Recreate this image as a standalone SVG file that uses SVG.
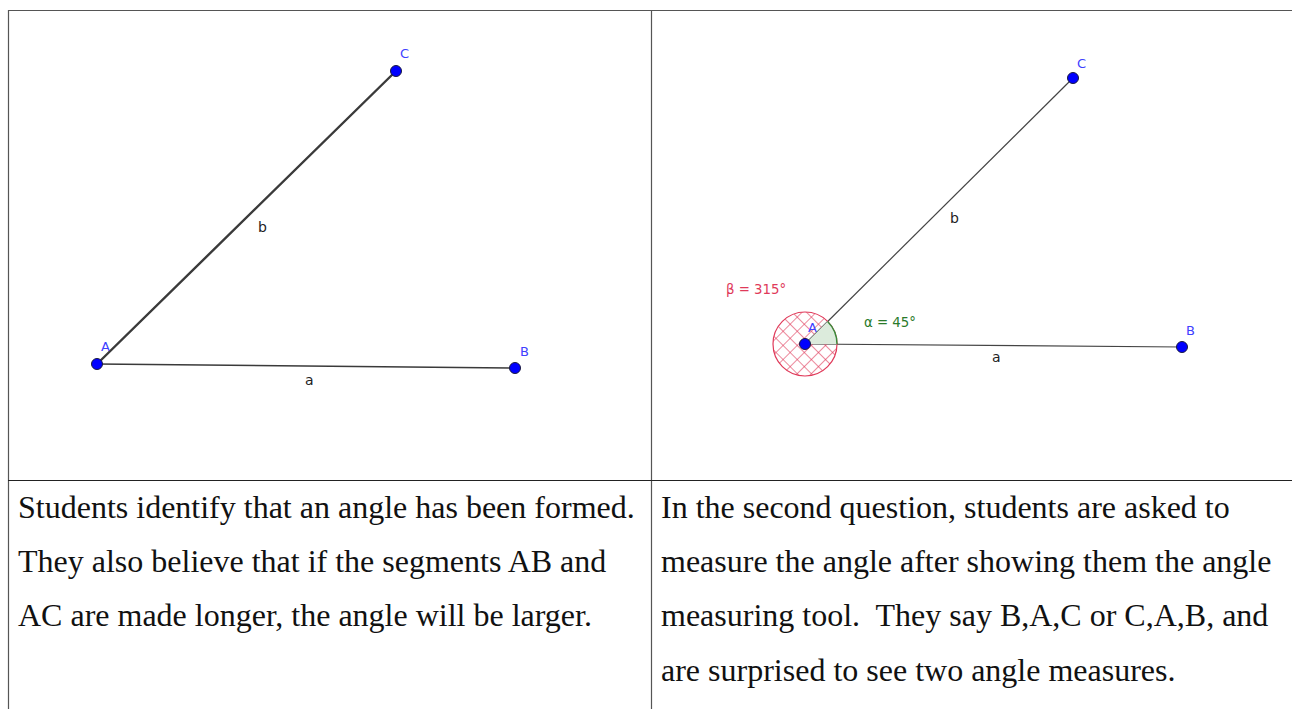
<svg xmlns="http://www.w3.org/2000/svg" width="1292" height="709" viewBox="0 0 1292 709">
<style>
.grid{stroke:#555;stroke-width:1.2;fill:none}
.body{font-family:"Liberation Serif","Times New Roman",serif;font-size:32px;fill:#111}
.pt{fill:#0000ff;stroke:#1a1a40;stroke-width:1}
.plabel{font-family:"DejaVu Sans",sans-serif;font-size:13px;fill:#4040ff}
.slabel{font-family:"DejaVu Sans",sans-serif;font-size:14px;fill:#222}
.seg1{stroke:#3a3a3a;stroke-width:2.4;stroke-linecap:round}
.seg2{stroke:#444;stroke-width:1.2}
</style>
<defs>
<pattern id="hatch" width="10" height="10" patternUnits="userSpaceOnUse" patternTransform="rotate(45 805 344)">
<line x1="0" y1="0" x2="0" y2="10" stroke="#e03a5a" stroke-width="1.2"/>
<line x1="0" y1="0" x2="10" y2="0" stroke="#e03a5a" stroke-width="1.2"/>
</pattern>
</defs>
<rect width="1292" height="709" fill="#fff"/>
<g id="table">
<line class="grid" x1="8" y1="10.5" x2="1292" y2="10.5"/>
<line class="grid" x1="8.5" y1="10" x2="8.5" y2="709"/>
<line class="grid" x1="651.5" y1="10" x2="651.5" y2="709"/>
<line x1="8" y1="480.5" x2="1292" y2="480.5" stroke="#222" stroke-width="1"/>
</g>
<g id="connectors">
<line class="seg1" x1="97" y1="364" x2="396" y2="71"/>
<line class="seg1" x1="97" y1="364" x2="515" y2="368" style="stroke-width:1.6"/>
<line class="seg2" x1="805" y1="344" x2="1073" y2="78"/>
<line class="seg2" x1="805" y1="344" x2="1182" y2="347"/>
</g>
<g id="angle-beta">
<path d="M805 344 L827.6 321.4 A32 32 0 1 0 837 344.25 Z" fill="url(#hatch)" stroke="none"/>
<circle cx="805" cy="344" r="32" fill="none" stroke="#e03a5a" stroke-width="1.2"/>
<text x="726" y="294" font-family="DejaVu Sans,sans-serif" font-size="13.3" fill="#e03a5a">β = 315°</text>
</g>
<g id="angle-alpha">
<path d="M805 344 L837 344.25 A32 32 0 0 0 827.6 321.4 Z" fill="#dcebdc" stroke="none"/>
<path d="M837 344.25 A32 32 0 0 0 827.6 321.4" fill="none" stroke="#3a8a3a" stroke-width="1.4"/>
<text x="864" y="327" font-family="DejaVu Sans,sans-serif" font-size="13.3" fill="#2a7a2a">α = 45°</text>
</g>
<g id="left-A"><circle class="pt" cx="97" cy="364" r="5.5"/><text class="plabel" x="101" y="351">A</text></g>
<g id="left-B"><circle class="pt" cx="515" cy="368" r="5.5"/><text class="plabel" x="520" y="356">B</text></g>
<g id="left-C"><circle class="pt" cx="396" cy="71" r="5.5"/><text class="plabel" x="400" y="58">C</text></g>
<g id="left-a"><text class="slabel" x="305" y="385">a</text></g>
<g id="left-b"><text class="slabel" x="258" y="232">b</text></g>
<g id="right-A"><circle class="pt" cx="805" cy="344" r="5.5"/><text class="plabel" x="808" y="332">A</text></g>
<g id="right-B"><circle class="pt" cx="1182" cy="347" r="5.5"/><text class="plabel" x="1186" y="335">B</text></g>
<g id="right-C"><circle class="pt" cx="1073" cy="78" r="5.5"/><text class="plabel" x="1077" y="68">C</text></g>
<g id="right-a"><text class="slabel" x="992" y="362">a</text></g>
<g id="right-b"><text class="slabel" x="950" y="223">b</text></g>
<g id="left-text">
<text class="body" x="18" y="518">Students identify that an angle has been formed.</text>
<text class="body" x="18" y="572">They also believe that if the segments AB and</text>
<text class="body" x="18" y="626">AC are made longer, the angle will be larger.</text>
</g>
<g id="right-text">
<text class="body" x="661" y="518">In the second question, students are asked to</text>
<text class="body" x="661" y="572">measure the angle after showing them the angle</text>
<text class="body" x="661" y="626" xml:space="preserve">measuring tool.  They say B,A,C or C,A,B, and</text>
<text class="body" x="661" y="681">are surprised to see two angle measures.</text>
</g>
</svg>
